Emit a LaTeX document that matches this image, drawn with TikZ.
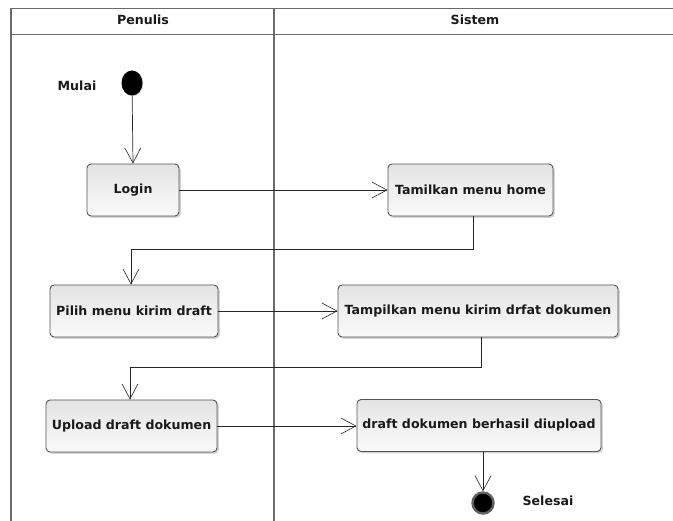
\documentclass[tikz,border=0pt]{standalone}
\usepackage{fontspec}
\setmainfont{DejaVu Sans}
\usetikzlibrary{arrows.meta,shadows,calc,shapes.geometric}
\definecolor{txt}{HTML}{1A1A1A}
\definecolor{boxline}{HTML}{555555}
\definecolor{lane}{HTML}{6A6A6A}
\tikzset{
  actbox/.style={draw=boxline, line width=0.9pt, rounded corners=4pt,
    top color=gray!22, bottom color=gray!5, middle color=gray!12,
    drop shadow={shadow xshift=1.8pt, shadow yshift=-1.8pt, opacity=0.35, fill=gray},
    minimum height=52pt, inner sep=0pt, text=txt,
    font=\fontsize{12.6}{15}\selectfont\bfseries},
  lbl/.style={text=txt, font=\fontsize{12.6}{15}\selectfont\bfseries, inner sep=0pt},
  flow/.style={draw=black!85, line width=0.7pt,
    -{Straight Barb[length=15pt,width=16pt,line width=0.6pt]}},
  lanestyle/.style={draw=lane, line width=1.2pt}
}
\begin{document}
\begin{tikzpicture}[x=1pt,y=-1pt]
\useasboundingbox (0,0) rectangle (673,521);
% swimlane frame
\draw[lanestyle] (11,521) -- (11,8.5) -- (673,8.5);
\draw[lanestyle] (11,34.5) -- (673,34.5);
\draw[lanestyle] (274,8.5) -- (274,521);
\node[lbl] (hpen) at (143,20) {Penulis};
\node[lbl] (hsis) at (475,20) {Sistem};
% start
\node[ellipse, fill=black, minimum width=21pt, minimum height=25pt, inner sep=0pt,
  drop shadow={shadow xshift=0.8pt, shadow yshift=-0.8pt, opacity=0.35, fill=gray}] (start) at (132,83) {};
\node[lbl] (mulai) at (77,86) {Mulai};
% activities
\node[actbox, minimum width=92pt] (login) at (133,190) {Login};
\node[actbox, minimum width=165pt] (home) at (470.5,190) {Tamilkan menu home};
\node[actbox, minimum width=168pt] (pilih) at (134,311) {Pilih menu kirim draft};
\node[actbox, minimum width=280pt] (kirim) at (478,311) {Tampilkan menu kirim drfat dokumen};
\node[actbox, minimum width=171pt] (upload) at (131.5,426) {Upload draft dokumen};
\node[actbox, minimum width=244pt] (berhasil) at (479,425.5) {draft dokumen berhasil diupload};
% end
\node[circle, draw=gray!75!black, line width=2.4pt, fill=black, minimum size=21pt, inner sep=0pt,
  drop shadow={shadow xshift=0.8pt, shadow yshift=-0.8pt, opacity=0.3, fill=gray}] (end) at (483,503) {};
\node[lbl] (selesai) at (548,501) {Selesai};
% bend points
\coordinate (b1) at (473,249);
\coordinate (b2) at (131,249);
\coordinate (b3) at (481,367);
\coordinate (b4) at (130,367);
% connectors
\draw[flow] (start) -- (login.north);
\draw[flow] (login.east) -- (home.west);
\draw[flow] (home.south -| b1) -- (b1) -- (b2) -- (pilih.north -| b2);
\draw[flow] (pilih.east) -- (kirim.west);
\draw[flow] (kirim.south -| b3) -- (b3) -- (b4) -- (upload.north -| b4);
\draw[flow] (upload.east) -- (upload.east -| berhasil.west);
\draw[flow] (berhasil.south -| end) -- (end.north);
\end{tikzpicture}
\end{document}
